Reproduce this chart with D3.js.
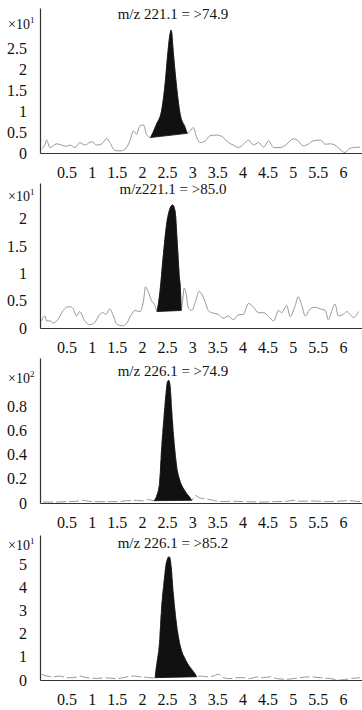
<!DOCTYPE html>
<html>
<head>
<meta charset="utf-8">
<script src="https://cdn.jsdelivr.net/npm/d3@7"></script>
<style>
  body { margin: 0; background: #fff; }
  svg { display: block; }
</style>
</head>
<body>
<div id="chart"></div>
<script>
// retention time (min) and intensity for each trace
const t1 = [0.00,0.07,0.10,0.17,0.30,0.40,0.50,0.57,0.67,0.76,0.86,1.00,1.10,1.20,1.30,1.36,1.46,1.56,1.66,1.76,
  1.83,1.89,1.96,2.03,2.09,2.17,2.29,2.39,2.46,2.52,2.56,2.58,2.59,2.62,2.69,2.76,2.86,2.90,2.96,3.02,
  3.09,3.16,3.26,3.35,3.49,3.62,3.72,3.82,3.92,4.02,4.12,4.22,4.32,4.42,4.52,4.62,4.75,4.88,5.01,5.11,
  5.21,5.31,5.41,5.55,5.65,5.75,5.84,5.94,6.04,6.11,6.21,6.34]
const y1 = [0.09,0.21,0.31,0.13,0.22,0.19,0.16,0.19,0.13,0.25,0.19,0.27,0.19,0.22,0.35,0.25,0.06,0.05,0.09,0.29,
  0.53,0.45,0.65,0.67,0.45,0.37,0.69,1.01,1.65,2.46,2.86,2.94,2.90,2.46,1.57,0.93,0.61,0.47,0.53,0.61,
  0.37,0.25,0.29,0.41,0.43,0.37,0.25,0.19,0.13,0.21,0.31,0.19,0.25,0.14,0.29,0.13,0.13,0.21,0.34,0.29,
  0.17,0.21,0.29,0.31,0.21,0.22,0.19,0.09,0.01,0.09,0.13,0.14]

const t2 = [0.00,0.03,0.07,0.10,0.17,0.23,0.33,0.43,0.50,0.57,0.63,0.70,0.76,0.86,0.96,1.06,1.16,1.23,1.28,1.36,
  1.43,1.50,1.61,1.69,1.79,1.86,1.96,2.03,2.07,2.13,2.19,2.26,2.30,2.36,2.42,2.49,2.56,2.61,2.66,2.70,
  2.74,2.77,2.78,2.81,2.84,2.88,2.92,2.99,3.06,3.14,3.19,3.26,3.32,3.42,3.52,3.62,3.72,3.82,3.92,4.02,
  4.12,4.22,4.32,4.42,4.52,4.62,4.72,4.78,4.88,4.95,5.05,5.11,5.18,5.25,5.35,5.45,5.55,5.65,5.71,5.78,
  5.84,5.91,6.01,6.08,6.14,6.21,6.31]
const y2 = [0.13,0.19,0.22,0.13,0.13,0.09,0.16,0.32,0.38,0.39,0.35,0.22,0.30,0.13,0.06,0.10,0.25,0.28,0.25,0.35,
  0.22,0.07,0.04,0.08,0.25,0.32,0.30,0.50,0.75,0.65,0.50,0.41,0.30,0.68,1.28,1.89,2.19,2.25,2.13,1.59,
  0.98,0.62,0.32,0.50,0.73,0.62,0.38,0.32,0.47,0.67,0.62,0.47,0.32,0.27,0.25,0.18,0.22,0.15,0.24,0.25,
  0.45,0.38,0.28,0.28,0.21,0.13,0.32,0.28,0.41,0.21,0.41,0.57,0.42,0.22,0.35,0.38,0.35,0.32,0.15,0.32,
  0.44,0.22,0.25,0.30,0.25,0.19,0.30]

const t3 = [0.03,0.33,0.50,0.70,0.83,0.93,1.10,1.30,1.50,1.69,1.89,2.03,2.13,2.19,2.24,2.29,2.35,2.39,2.44,2.48,
  2.51,2.53,2.56,2.59,2.64,2.69,2.76,2.86,2.96,2.99,3.06,3.16,3.29,3.42,3.55,3.82,4.08,4.35,4.62,4.88,
  5.01,5.15,5.41,5.68,5.88,6.08,6.34]
const y3 = [0.008,0.008,0.011,0.014,0.022,0.014,0.011,0.011,0.011,0.019,0.022,0.017,0.028,0.022,0.019,0.055,0.166,0.441,0.717,0.910,
  1.007,1.015,0.966,0.772,0.497,0.303,0.179,0.097,0.041,0.022,0.061,0.041,0.033,0.022,0.011,0.014,0.011,0.008,0.011,0.014,
  0.022,0.014,0.017,0.011,0.014,0.019,0.011]

const t4 = [0.00,0.10,0.23,0.37,0.50,0.63,0.76,0.90,1.10,1.30,1.50,1.69,1.83,1.96,2.09,2.23,2.26,2.29,2.35,2.39,
  2.44,2.49,2.54,2.57,2.62,2.69,2.76,2.86,2.96,3.06,3.09,3.16,3.29,3.42,3.52,3.62,3.75,3.89,4.02,4.15,
  4.28,4.42,4.55,4.68,4.88,5.01,5.15,5.35,5.55,5.75,5.95,6.14,6.34]
const y4 = [0.25,0.17,0.14,0.17,0.10,0.10,0.17,0.10,0.07,0.09,0.06,0.13,0.17,0.14,0.12,0.09,0.10,0.61,1.62,3.07,
  4.23,5.10,5.32,5.10,3.80,2.35,1.48,0.90,0.54,0.25,0.14,0.17,0.14,0.17,0.25,0.10,0.06,0.10,0.10,0.06,
  0.13,0.10,0.14,0.06,0.03,0.06,0.10,0.14,0.10,0.06,0.00,0.06,0.10]

const titles = ['m/z 221.1 = >74.9', 'm/z221.1 = >85.0', 'm/z 226.1 = >74.9', 'm/z 226.1 = >85.2']
const exponents = ['1', '1', '2', '1']
const yMax = [3.47, 2.65, 1.2, 6.26]
const yTicks = [[0, 0.5, 1, 1.5, 2, 2.5], [0, 0.5, 1, 1.5, 2], [0, 0.2, 0.4, 0.6, 0.8], [0, 1, 2, 3, 4, 5]]
const peakWindows = [[2.17, 2.90], [2.30, 2.78], [2.24, 2.99], [2.26, 3.09]]
const xTicks = [0.5, 1, 1.5, 2, 2.5, 3, 3.5, 4, 4.5, 5, 5.5, 6]

const traces = [[t1, y1], [t2, y2], [t3, y3], [t4, y4]]

// layout
const width = 362, height = 710
const panelTops = [8, 183, 358, 535]
const panelH = 145
const titleDy = [11, 11, 18, 13]
const expDy = [21, 18, 25, 15]
const font = '"Liberation Serif", "Times New Roman", serif'

const svg = d3.select('#chart')
  .append('svg')
  .attr('width', width)
  .attr('height', height)

const x = d3.scaleLinear()
  .domain([-0.03, 6.38])
  .range([40, 362])

traces.forEach(([ts, vs], i) => {
  const top = panelTops[i]
  const y = d3.scaleLinear()
    .domain([0, yMax[i]])
    .range([top + panelH, top])

  const g = svg.append('g')
  const pts = ts.map((t, k) => ({ t: t, v: vs[k] }))

  const line = d3.line()
    .x(d => x(d.t))
    .y(d => y(d.v))
    .curve(d3.curveMonotoneX)

  // the trace
  g.append('path')
    .datum(pts)
    .attr('d', line)
    .attr('fill', 'none')
    .attr('stroke', '#8c8c8c')
    .attr('stroke-width', 0.9)
    .attr('stroke-dasharray', i >= 2 ? '10,3' : null)

  // integrated peak, closed with a straight baseline
  const [p0, p1] = peakWindows[i]
  const peak = pts.filter(d => d.t >= p0 && d.t <= p1)
  g.append('path')
    .attr('d', line(peak) + 'Z')
    .attr('fill', '#111')
    .attr('stroke', '#111')
    .attr('stroke-width', 0.8)

  // axes
  const yAxis = g.append('g')
    .attr('transform', 'translate(40,0)')
    .call(d3.axisLeft(y).tickValues(yTicks[i]).tickSize(0).tickSizeOuter(0).tickPadding(13).tickFormat(d3.format('~g')))
  const xAxis = g.append('g')
    .attr('transform', `translate(0,${top + panelH})`)
    .call(d3.axisBottom(x).tickValues(xTicks).tickSize(0).tickSizeOuter(0).tickPadding(14).tickFormat(d3.format('~g')))

  ;[yAxis, xAxis].forEach(a => {
    a.select('.domain').attr('stroke', '#333').attr('stroke-width', 1.2)
    a.selectAll('text')
      .attr('font-family', font)
      .attr('font-size', 16)
      .attr('fill', '#111')
  })

  // title
  g.append('text')
    .attr('x', 173)
    .attr('y', top + titleDy[i])
    .attr('text-anchor', 'middle')
    .attr('font-family', font)
    .attr('font-size', 15)
    .attr('fill', '#111')
    .text(titles[i])

  // scale factor
  const f = g.append('text')
    .attr('x', 8)
    .attr('y', top + expDy[i])
    .attr('font-family', font)
    .attr('font-size', 14)
    .attr('fill', '#111')
  f.append('tspan').text('\u00d710')
  f.append('tspan')
    .attr('font-size', 9)
    .attr('dy', -6)
    .text(exponents[i])
})
</script>
</body>
</html>
